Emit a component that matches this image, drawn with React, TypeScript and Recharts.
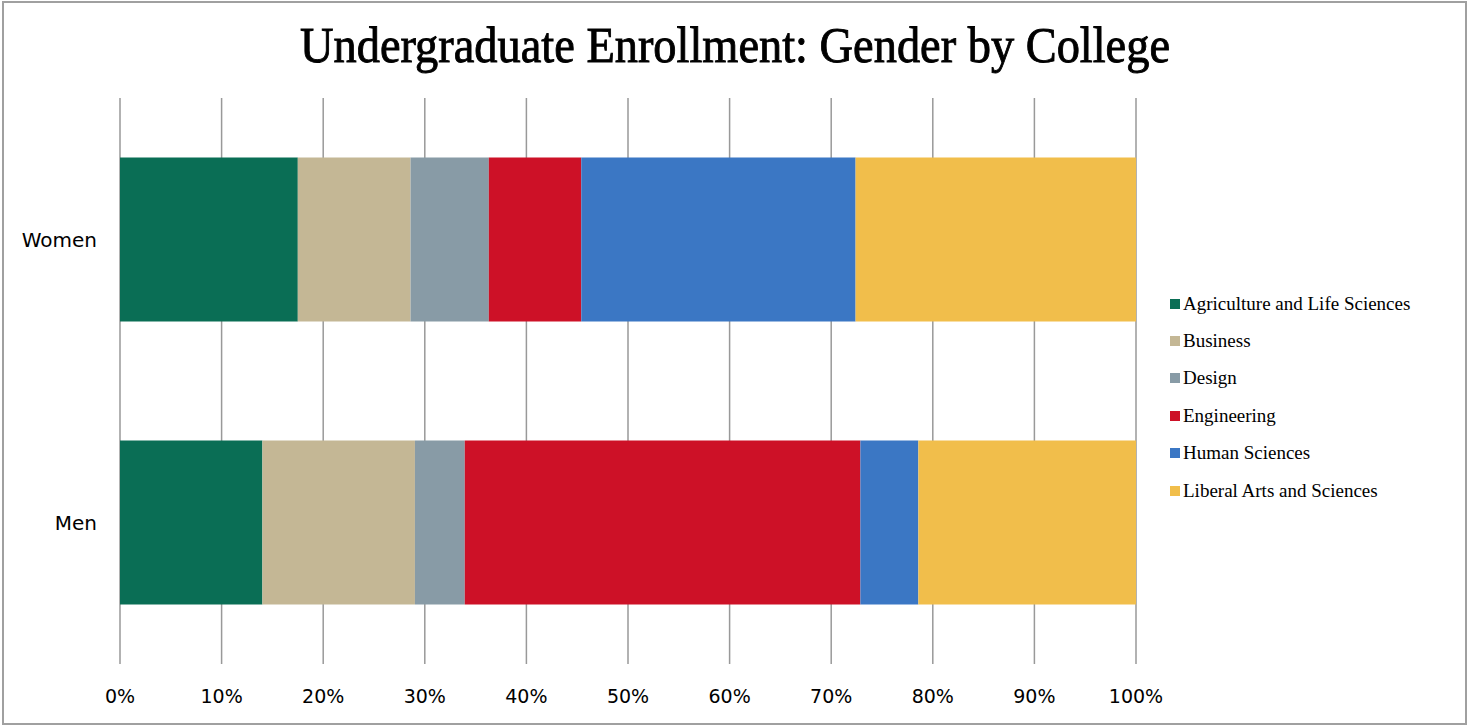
import { Bar, BarChart, CartesianGrid, Legend, XAxis, YAxis } from 'recharts';

const categories = ['Women', 'Men'];

// share of each gender's undergrads, in percent
const agriculture = [17.5, 14.0];
const business = [11.1, 15.0];
const design = [7.7, 4.9];
const engineering = [9.1, 38.9];
const humanSciences = [27.0, 5.7];
const liberalArts = [27.6, 21.4];

const colleges = [
    'Agriculture and Life Sciences',
    'Business',
    'Design',
    'Engineering',
    'Human Sciences',
    'Liberal Arts and Sciences',
];
const collegeColors = ['#0a6e55', '#c4b795', '#889ba6', '#cd1127', '#3b77c4', '#f1be4b'];
const xTicks = [0, 0.1, 0.2, 0.3, 0.4, 0.5, 0.6, 0.7, 0.8, 0.9, 1];

const seriesValues = [agriculture, business, design, engineering, humanSciences, liberalArts];

const chartData = categories.map((name, i) => {
    const row: Record<string, string | number> = { name };
    colleges.forEach((college, j) => {
        row[college] = seriesValues[j][i];
    });
    return row;
});

function formatPct(value: number): string {
    return `${Math.round(value * 100)}%`;
}

function LegendList({ payload }: { payload?: Array<{ value: string; color: string }> }) {
    return (
        <div style={{ fontFamily: '"Liberation Serif", serif', fontSize: 19, color: '#000' }}>
            {(payload ?? []).map((item) => (
                <div
                    key={item.value}
                    style={{ height: 37.4, display: 'flex', alignItems: 'center', whiteSpace: 'nowrap' }}
                >
                    <span
                        style={{
                            width: 10,
                            height: 10,
                            background: item.color,
                            marginRight: 3,
                            display: 'inline-block',
                        }}
                    />
                    {item.value}
                </div>
            ))}
        </div>
    );
}

export default function App() {
    return (
        <div style={{ position: 'absolute', left: 0, top: 0, width: 1467, height: 726, background: '#fff' }}>
            <div
                style={{
                    position: 'absolute',
                    left: 2,
                    top: 1,
                    width: 1461,
                    height: 720,
                    border: '2px solid #a0a0a0',
                }}
            />
            <svg width={1467} height={90} style={{ position: 'absolute', left: 0, top: 0 }}>
                <text
                    x={735}
                    y={62}
                    textAnchor="middle"
                    textLength={870}
                    lengthAdjust="spacingAndGlyphs"
                    fontFamily='"Liberation Serif", serif'
                    fontSize={50}
                    fill="#000"
                    stroke="#000"
                    strokeWidth={0.9}
                >
                    Undergraduate Enrollment: Gender by College
                </text>
            </svg>
            <BarChart
                width={1467}
                height={726}
                data={chartData}
                layout="vertical"
                stackOffset="expand"
                barCategoryGap="21%"
                margin={{ top: 98, right: 331, bottom: 23, left: 0 }}
                style={{ position: 'absolute', left: 0, top: 0 }}
            >
                <CartesianGrid horizontal={false} stroke="#999" strokeWidth={1.5} />
                <XAxis
                    type="number"
                    domain={[0, 1]}
                    ticks={xTicks}
                    tickFormatter={formatPct}
                    axisLine={false}
                    tickLine={false}
                    tickMargin={20}
                    height={39}
                    tick={{ fontSize: 19, fontFamily: '"DejaVu Sans", sans-serif', fill: '#000' }}
                />
                <YAxis
                    type="category"
                    dataKey="name"
                    width={120}
                    axisLine={false}
                    tickLine={false}
                    tickMargin={17}
                    tick={{ fontSize: 20, fontFamily: '"DejaVu Sans", sans-serif', fill: '#000' }}
                />
                <Legend
                    layout="vertical"
                    align="center"
                    verticalAlign="middle"
                    wrapperStyle={{ left: 1170, top: 285, width: 290 }}
                    content={(props) => <LegendList payload={props.payload as any} />}
                />
                {colleges.map((college, j) => (
                    <Bar
                        key={college}
                        dataKey={college}
                        stackId="gender"
                        fill={collegeColors[j]}
                        isAnimationActive={false}
                    />
                ))}
            </BarChart>
        </div>
    );
}
